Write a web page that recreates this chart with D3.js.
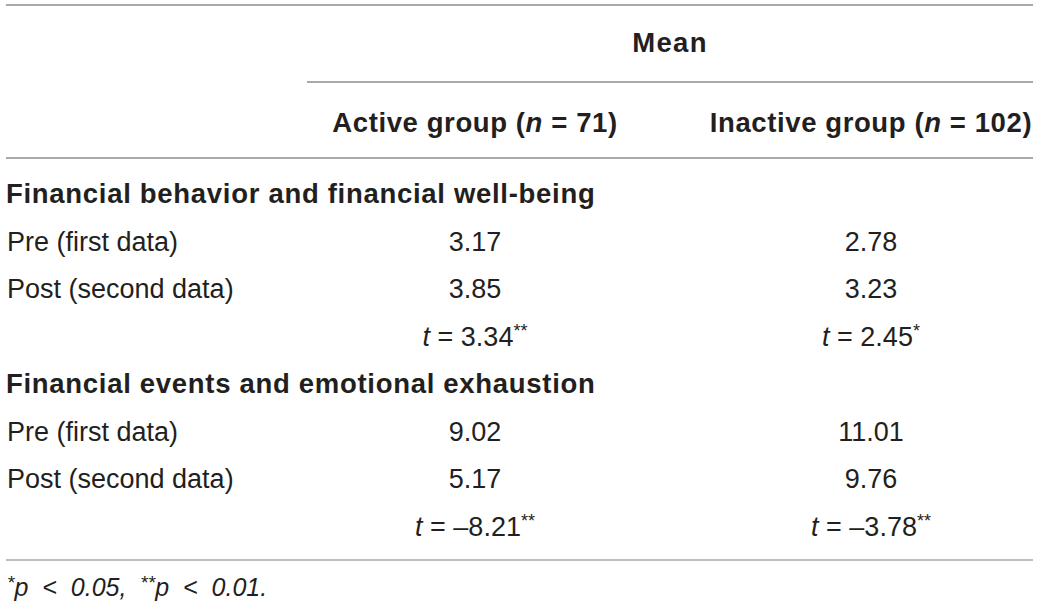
<!DOCTYPE html>
<html>
<head>
<meta charset="utf-8">
<script src="https://cdn.jsdelivr.net/npm/d3@7"></script>
<style>
  html, body { margin: 0; padding: 0; background: #fff; }
  svg { display: block; }
  text { font-family: "Liberation Sans", Arial, Helvetica, sans-serif; fill: #231f20; }
</style>
</head>
<body>
<svg id="chart"></svg>
<script>
// ── 표 데이터 ────────────────────────────────────────────────────────────────
const groups        = ['Active group', 'Inactive group'];
const groupN        = [71, 102];
const sections      = ['Financial behavior and financial well-being',
                       'Financial events and emotional exhaustion'];
const timeLabels    = ['Pre (first data)', 'Post (second data)'];
const activeMeans   = [[3.17, 3.85], [9.02, 5.17]];
const inactiveMeans = [[2.78, 3.23], [11.01, 9.76]];
const activeT       = [3.34, -8.21];
const inactiveT     = [2.45, -3.78];
const activeSig     = ['**', '**'];
const inactiveSig   = ['*', '**'];
const footnote      = [{ stars: '*', p: 0.05 }, { stars: '**', p: 0.01 }];

const W = 1039, H = 609;
const LEFT = 6, RIGHT = 1033;
const LINE = '#8c8c8c';

const svg = d3.select('#chart').attr('width', W).attr('height', H);

// 열 위치 (그룹 → 중심 x)
const xCol = d3.scaleOrdinal().domain(groups).range([475, 871]);
// 행 위치 (본문 행 index → baseline y)
const yRow = d3.scaleLinear().domain([0, 7]).range([203, 535.5]);

const fmtT = v => (v < 0 ? '\u2013' : '') + d3.format('.2f')(Math.abs(v));

// ── 가로줄 ───────────────────────────────────────────────────────────────────
const rules = [
  { x1: LEFT, x2: RIGHT, y: 5,   c: LINE },
  { x1: 307,  x2: RIGHT, y: 82,  c: LINE },
  { x1: LEFT, x2: RIGHT, y: 158, c: LINE },
  { x1: LEFT, x2: RIGHT, y: 560, c: '#a8a8a8' },
];
svg.append('g').selectAll('line')
  .data(rules)
  .join('line')
  .attr('x1', d => d.x1).attr('x2', d => d.x2)
  .attr('y1', d => d.y).attr('y2', d => d.y)
  .attr('stroke', d => d.c)
  .attr('stroke-width', 1.3);

// ── 헤더 ─────────────────────────────────────────────────────────────────────
const bold = sel => sel.attr('font-weight', 'bold')
  .attr('font-size', 27.5).attr('letter-spacing', 0.6);

svg.append('text')
  .attr('x', (307 + RIGHT) / 2).attr('y', 52)
  .attr('text-anchor', 'middle')
  .call(bold)
  .attr('letter-spacing', 1.3)
  .text('Mean');

groups.forEach((g, i) => {
  const t = svg.append('text')
    .attr('x', xCol(g)).attr('y', 132)
    .attr('text-anchor', 'middle')
    .call(bold);
  t.append('tspan').text(`${g} (`);
  t.append('tspan').attr('font-style', 'italic').text('n');
  t.append('tspan').text(` = ${groupN[i]})`);
});

// ── 본문 ─────────────────────────────────────────────────────────────────────
const body = svg.append('g');

function tCell(x, y, v, stars) {
  const t = body.append('text')
    .attr('x', x).attr('y', y)
    .attr('text-anchor', 'middle')
    .attr('font-size', 27);
  t.append('tspan').attr('font-style', 'italic').text('t');
  t.append('tspan').text(` = ${fmtT(v)}`);
  t.append('tspan').attr('font-size', 18).attr('dy', -9).text(stars);
}

sections.forEach((s, si) => {
  const base = si * 4;
  body.append('text')
    .attr('x', LEFT).attr('y', yRow(base))
    .call(bold)
    .attr('letter-spacing', 0.7)
    .text(s);

  timeLabels.forEach((lab, ti) => {
    const y = yRow(base + 1 + ti);
    body.append('text')
      .attr('x', LEFT + 1).attr('y', y)
      .attr('font-size', 27)
      .text(lab);
    body.append('text')
      .attr('x', xCol(groups[0])).attr('y', y)
      .attr('text-anchor', 'middle').attr('font-size', 27)
      .text(d3.format('.2f')(activeMeans[si][ti]));
    body.append('text')
      .attr('x', xCol(groups[1])).attr('y', y)
      .attr('text-anchor', 'middle').attr('font-size', 27)
      .text(d3.format('.2f')(inactiveMeans[si][ti]));
  });

  const yt = yRow(base + 3);
  tCell(xCol(groups[0]), yt, activeT[si], activeSig[si]);
  tCell(xCol(groups[1]), yt, inactiveT[si], inactiveSig[si]);
});

// ── 각주 ─────────────────────────────────────────────────────────────────────
const fn = svg.append('text')
  .attr('x', LEFT + 1).attr('y', 596)
  .attr('font-size', 25)
  .attr('font-style', 'italic')
  .attr('word-spacing', 7)
  .attr('fill', '#333');
footnote.forEach((f, i) => {
  if (i) fn.append('tspan').text(' ');
  fn.append('tspan').attr('font-size', 19).attr('dy', -7).text(f.stars);
  fn.append('tspan').attr('dy', 7)
    .text(`p < ${d3.format('.2f')(f.p)}${i < footnote.length - 1 ? ',' : '.'}`);
});
</script>
</body>
</html>
